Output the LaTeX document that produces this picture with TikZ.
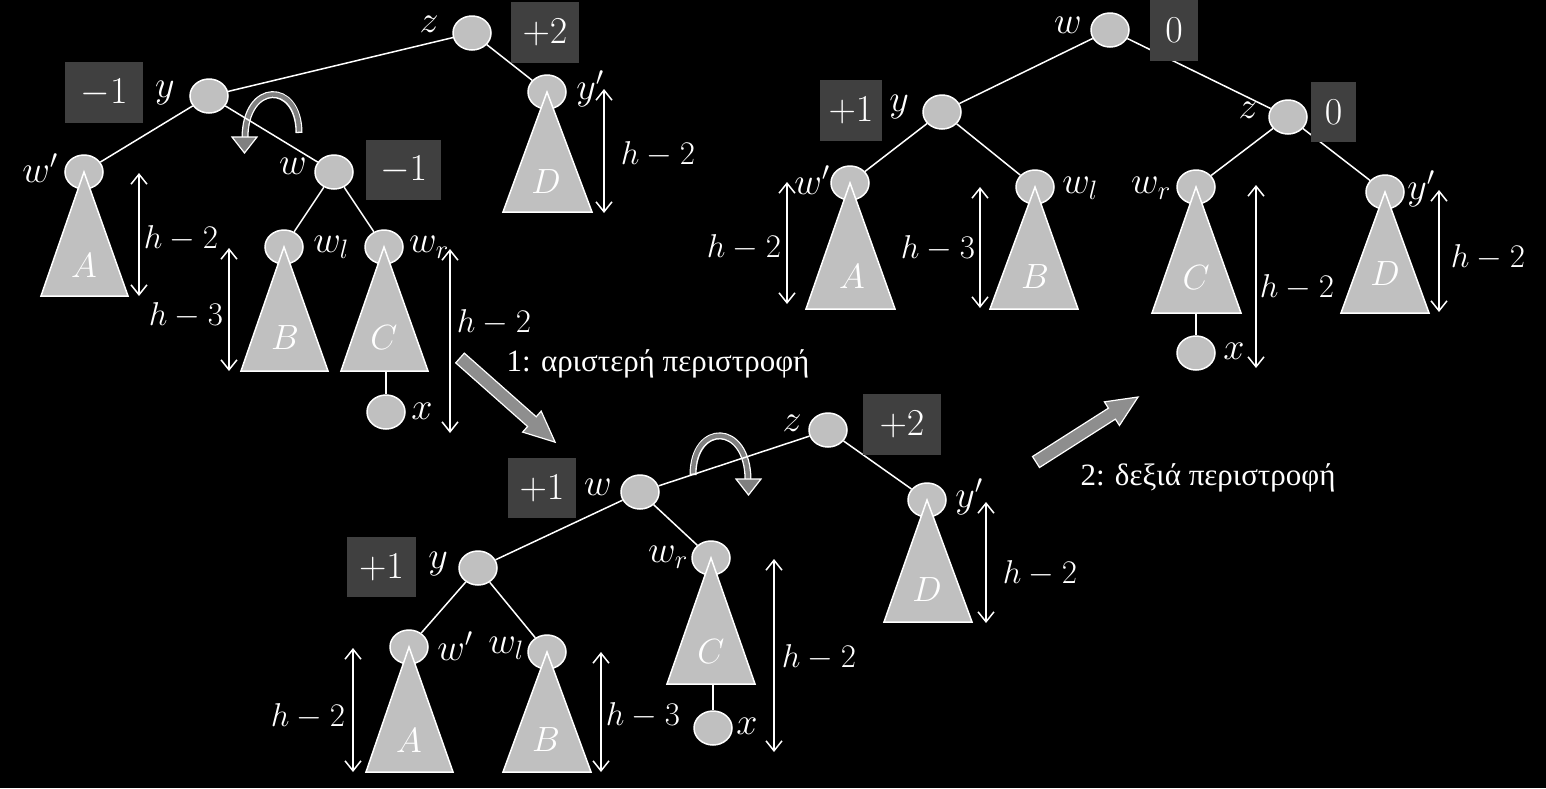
\RequirePackage{fix-cm}
\documentclass[tikz,border=0pt]{standalone}
\usepackage{fontspec}
\newfontfamily\grfont{Liberation Serif}
\usetikzlibrary{shapes.geometric,arrows.meta}
\definecolor{ngray}{HTML}{C0C0C0}
\definecolor{bgray}{HTML}{404040}
\definecolor{agray}{HTML}{8E8E8E}
\definecolor{cgray}{HTML}{808080}
\begin{document}
\begin{tikzpicture}[x=1pt,y=-1pt,
 tn/.style={ellipse, draw=white, line width=1.5pt, fill=ngray, minimum width=38pt, minimum height=34pt, inner sep=0pt},
 bx/.style={fill=bgray, text=white, inner sep=0pt, font=\fontsize{38}{42}\selectfont},
 lab/.style={text=white, inner sep=0pt, font=\fontsize{38}{44}\selectfont},
 hlab/.style={text=white, inner sep=0pt, font=\fontsize{33}{38}\selectfont},
 tlab/.style={text=white, inner sep=0pt, font=\fontsize{35}{40}\selectfont},
 tri/.style={fill=ngray, draw=white, line width=1.5pt, line join=miter},
 edge/.style={draw=white, line width=1.5pt},
 harrow/.style={draw=white, line width=1.5pt, {Straight Barb[length=10pt,width=16pt]}-{Straight Barb[length=10pt,width=16pt]}},
 gr/.style={text=white, inner sep=0pt, font=\grfont\fontsize{31}{36}\selectfont},
 bigarrow/.style={fill=agray, draw=white, line width=1.2pt, line join=miter},
]
\fill[black] (0,0) rectangle (1546,788);
\useasboundingbox (0,0) rectangle (1546,788);

% ---------- curved rotation arrows ----------
\draw[white, line width=7pt] (299,133) .. controls (299,81) and (245,81) .. (245,138);
\draw[cgray, line width=4.4pt, shorten <=1.3pt] (299,133) .. controls (299,81) and (245,81) .. (245,138);
\draw[fill=cgray, draw=white, line width=1.2pt] (232,137) -- (257,137) -- (244.5,153) -- cycle;

\draw[white, line width=7pt] (693,475) .. controls (693,422) and (748,422) .. (748,480);
\draw[cgray, line width=4.4pt, shorten <=1.3pt] (693,475) .. controls (693,422) and (748,422) .. (748,480);
\draw[fill=cgray, draw=white, line width=1.2pt] (736,479) -- (761,479) -- (748.5,495) -- cycle;

% ================= Tree 1 (top left) =================
\node[tn] (z1) at (472,33) {};
\node[tn] (y1) at (209,96) {};
\node[tn] (wp1) at (84,172) {};
\node[tn] (w1) at (334,172) {};
\node[tn] (wl1) at (284,247) {};
\node[tn] (wr1) at (384,247) {};
\node[tn] (x1) at (386,412) {};
\node[tn] (yp1) at (547,92) {};
\draw[edge] (z1) -- (y1);
\draw[edge] (z1) -- (yp1);
\draw[edge] (y1) -- (wp1);
\draw[edge] (y1) -- (w1);
\draw[edge] (w1) -- (wl1);
\draw[edge] (w1) -- (wr1);
\draw[edge] (386,371) coordinate (cb1) -- (x1);
\draw[tri] (wp1.center) -- (41,296) -- (128,296) -- cycle;
\draw[tri] (wl1.center) -- (241,371) -- (328,371) -- cycle;
\draw[tri] (wr1.center) -- (341,371) -- (428,371) -- cycle;
\draw[tri] (yp1.center) -- (503,212) -- (592,212) -- cycle;
\node[tlab] (tA1) at (84,266) {$A$};
\node[tlab] (tB1) at (285,338) {$B$};
\node[tlab] (tC1) at (384,338) {$C$};
\node[tlab] (tD1) at (546,182) {$D$};
\node[lab] (lz1) at (429,24) {$z$};
\node[lab] (ly1) at (165,93) {$y$};
\node[lab] (lwp1) at (40,168) {$w'$};
\node[lab] (lw1) at (293,166) {$w$};
\node[lab] (lwl1) at (331,247) {$w_l$};
\node[lab] (lwr1) at (429,247) {$w_r$};
\node[lab] (lx1) at (422,411) {$x$};
\node[lab] (lyp1) at (590,89) {$y'$};
\node[bx, minimum width=68pt, minimum height=61pt] (b1z) at (545,32) {$+2$};
\node[bx, minimum width=78pt, minimum height=61pt] (b1y) at (104,92.5) {$-1$};
\node[bx, minimum width=75pt, minimum height=60pt] (b1w) at (403.5,170) {$-1$};
\draw[harrow] (139,173) coordinate (h1a) -- (139,296) coordinate (h1b);
\draw[harrow] (229,248) coordinate (h2a) -- (229,371) coordinate (h2b);
\draw[harrow] (450,249) coordinate (h3a) -- (450,433) coordinate (h3b);
\draw[harrow] (604,89) coordinate (h4a) -- (604,213) coordinate (h4b);
\node[hlab] (lh1) at (181,238) {$h-2$};
\node[hlab] (lh2) at (186,315) {$h-3$};
\node[hlab] (lh3) at (494,322) {$h-2$};
\node[hlab] (lh4) at (658,154) {$h-2$};

% ================= Tree 2 (bottom middle) =================
\node[tn] (z2) at (828,430) {};
\node[tn] (w2) at (640,492) {};
\node[tn] (y2) at (478,568) {};
\node[tn] (wp2) at (409,647) {};
\node[tn] (wl2) at (547,652) {};
\node[tn] (wr2) at (711,558) {};
\node[tn] (x2) at (713,728) {};
\node[tn] (yp2) at (927,500) {};
\draw[edge] (z2) -- (w2);
\draw[edge] (z2) -- (yp2);
\draw[edge] (w2) -- (y2);
\draw[edge] (w2) -- (wr2);
\draw[edge] (y2) -- (wp2);
\draw[edge] (y2) -- (wl2);
\draw[edge] (713,684) coordinate (cb2) -- (x2);
\draw[tri] (wp2.center) -- (366,772) -- (453,772) -- cycle;
\draw[tri] (wl2.center) -- (503,772) -- (591,772) -- cycle;
\draw[tri] (wr2.center) -- (667,684) -- (755,684) -- cycle;
\draw[tri] (yp2.center) -- (884,622) -- (972,622) -- cycle;
\node[tlab] (tA2) at (409,741) {$A$};
\node[tlab] (tB2) at (546,740) {$B$};
\node[tlab] (tC2) at (711,652) {$C$};
\node[tlab] (tD2) at (927,590) {$D$};
\node[lab] (lz2) at (792,423) {$z$};
\node[lab] (lw2) at (598,487) {$w$};
\node[lab] (ly2) at (438,564) {$y$};
\node[lab] (lwp2) at (455,646) {$w'$};
\node[lab] (lwl2) at (506,648) {$w_l$};
\node[lab] (lwr2) at (668,557) {$w_r$};
\node[lab] (lx2) at (747,726) {$x$};
\node[lab] (lyp2) at (969,497) {$y'$};
\node[bx, minimum width=78pt, minimum height=61pt] (b2z) at (902,424.5) {$+2$};
\node[bx, minimum width=68pt, minimum height=60pt] (b2w) at (542,488) {$+1$};
\node[bx, minimum width=69pt, minimum height=60pt] (b2y) at (381.5,567) {$+1$};
\draw[harrow] (353,648) coordinate (h5a) -- (353,772) coordinate (h5b);
\draw[harrow] (601,652) coordinate (h6a) -- (601,772) coordinate (h6b);
\draw[harrow] (774,559) coordinate (h7a) -- (774,752) coordinate (h7b);
\draw[harrow] (986,502) coordinate (h8a) -- (986,623) coordinate (h8b);
\node[hlab] (lh5) at (308,716) {$h-2$};
\node[hlab] (lh6) at (643,715) {$h-3$};
\node[hlab] (lh7) at (819,657) {$h-2$};
\node[hlab] (lh8) at (1040,573) {$h-2$};

% ================= Tree 3 (top right) =================
\node[tn] (w3) at (1110,30) {};
\node[tn] (y3) at (942,112) {};
\node[tn] (z3) at (1288,117) {};
\node[tn] (wp3) at (850,183) {};
\node[tn] (wl3) at (1035,187) {};
\node[tn] (wr3) at (1196,187) {};
\node[tn] (yp3) at (1385,192) {};
\node[tn] (x3) at (1196,353) {};
\draw[edge] (w3) -- (y3);
\draw[edge] (w3) -- (z3);
\draw[edge] (y3) -- (wp3);
\draw[edge] (y3) -- (wl3);
\draw[edge] (z3) -- (wr3);
\draw[edge] (z3) -- (yp3);
\draw[edge] (1196,313) coordinate (cb3) -- (x3);
\draw[tri] (wp3.center) -- (806,309) -- (895,309) -- cycle;
\draw[tri] (wl3.center) -- (990,309) -- (1078,309) -- cycle;
\draw[tri] (wr3.center) -- (1152,313) -- (1241,313) -- cycle;
\draw[tri] (yp3.center) -- (1341,313) -- (1429,313) -- cycle;
\node[tlab] (tA3) at (852,277) {$A$};
\node[tlab] (tB3) at (1035,277) {$B$};
\node[tlab] (tC3) at (1196,278) {$C$};
\node[tlab] (tD3) at (1385,274) {$D$};
\node[lab] (lw3) at (1068,25) {$w$};
\node[lab] (ly3) at (899,107) {$y$};
\node[lab] (lz3) at (1248,110) {$z$};
\node[lab] (lwp3) at (812,180) {$w'$};
\node[lab] (lwl3) at (1080,188) {$w_l$};
\node[lab] (lwr3) at (1151,188) {$w_r$};
\node[lab] (lyp3) at (1421,189) {$y'$};
\node[lab] (lx3) at (1234,351) {$x$};
\node[bx, minimum width=48pt, minimum height=61pt] (b3w) at (1174,30) {$0$};
\node[bx, minimum width=62pt, minimum height=61pt] (b3y) at (851,110.5) {$+1$};
\node[bx, minimum width=45pt, minimum height=60pt] (b3z) at (1333.5,112) {$0$};
\draw[harrow] (787,182) coordinate (h9a) -- (787,304) coordinate (h9b);
\draw[harrow] (980,187) coordinate (h10a) -- (980,308) coordinate (h10b);
\draw[harrow] (1256,185) coordinate (h11a) -- (1256,368) coordinate (h11b);
\draw[harrow] (1439,190) coordinate (h12a) -- (1439,312) coordinate (h12b);
\node[hlab] (lh9) at (744,247) {$h-2$};
\node[hlab] (lh10) at (938,248) {$h-3$};
\node[hlab] (lh11) at (1297,287) {$h-2$};
\node[hlab] (lh12) at (1488,257) {$h-2$};

% ================= big transition arrows =================
\begin{scope}[shift={(460,358)}, rotate=-41.5]
\draw[bigarrow] (0,-6.5) -- (96,-6.5) -- (96,-14) -- (127,0) -- (96,14) -- (96,6.5) -- (0,6.5) -- cycle;
\end{scope}
\node[gr] (t1) at (658,364) {1: αριστερή περιστροφή};
\begin{scope}[shift={(1036,462)}, rotate=32.5]
\draw[bigarrow] (0,-6.5) -- (90,-6.5) -- (90,-14) -- (121,0) -- (90,14) -- (90,6.5) -- (0,6.5) -- cycle;
\end{scope}
\node[gr] (t2) at (1208,478) {2: δεξιά περιστροφή};
\end{tikzpicture}
\end{document}
